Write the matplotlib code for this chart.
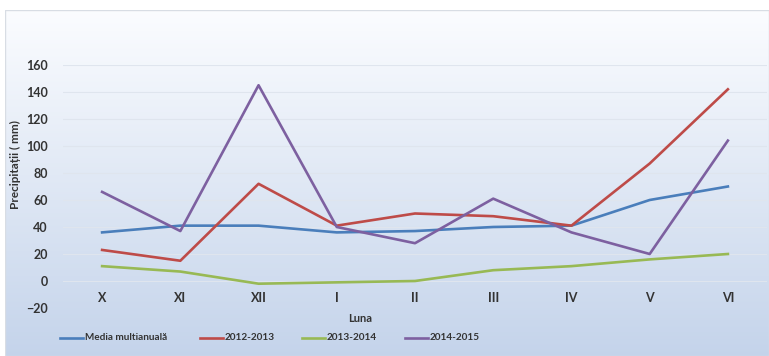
import numpy as np
import matplotlib
matplotlib.use("Agg")
import matplotlib.pyplot as plt
from matplotlib.lines import Line2D

plt.rcParams["font.family"] = ["Lato", "DejaVu Sans"]

months = ["X", "XI", "XII", "I", "II", "III", "IV", "V", "VI"]
media = [36, 41, 41, 36, 37, 40, 41, 60, 70]
s2012 = [23, 15, 72, 41, 50, 48, 41, 87, 142]
s2013 = [11, 7, -2, -1, 0, 8, 11, 16, 20]
s2014 = [66, 37, 145, 40, 28, 61, 36, 20, 104]

names = ["Media multianuală", "2012-2013", "2013-2014", "2014-2015"]
colors = ["#4a7ebb", "#be4b48", "#98b954", "#7d60a0"]
series = [media, s2012, s2013, s2014]

W, H = 769, 356
fig = plt.figure(figsize=(W / 100, H / 100), dpi=100)
fig.patch.set_facecolor("white")

# chart-area gradient background
bg = fig.add_axes([5 / W, 0, 1 - 5 / W, 1 - 10 / H])
grad = np.linspace(0, 1, 256).reshape(-1, 1)
top = np.array([0.985, 0.99, 1.0])
bot = np.array([0.77, 0.83, 0.92])
img = top + (bot - top) * grad[..., None]
img = np.repeat(img, 2, axis=1)
bg.imshow(img, aspect="auto", extent=[0, 1, 0, 1], origin="upper")
bg.set_axis_off()
bg.add_patch(plt.Rectangle((0, 0), 1, 1, transform=bg.transAxes, fill=False,
                           edgecolor="#d8dde4", linewidth=1))

ax = fig.add_axes([63 / W, 1 - 308 / H, (767 - 63) / W, (308 - 65) / H])
ax.patch.set_alpha(0)
x = np.arange(len(months))
for vals, c in zip(series, colors):
    ax.plot(x, vals, color=c, linewidth=1.9, solid_joinstyle="round")

ax.set_xlim(-0.5, len(months) - 0.5)
ax.set_ylim(-20, 160)
ax.set_yticks(np.arange(-20, 161, 20))
ax.set_xticks([])
for sp in ax.spines.values():
    sp.set_visible(False)
ax.grid(axis="y", color="#dfe5ee", linewidth=0.8)
ax.set_axisbelow(True)
ax.tick_params(axis="y", length=0, pad=11, labelsize=9, labelcolor="#333333")
for lab in ax.get_yticklabels():
    lab.set_fontweight("bold")

# category labels placed just below the zero line
for xi, m in zip(x, months):
    ax.annotate(m, xy=(xi, 0), xycoords="data", xytext=(0, -12),
                textcoords="offset points", ha="center", va="center",
                fontsize=9, fontweight="bold", color="#333333")

fig.text(15 / W, 1 - 165 / H, "Precipitații ( mm)", rotation=90, ha="center",
         va="center", fontsize=8.5, fontweight="bold", color="#333333")
fig.text(360 / W, 1 - 318 / H, "Luna", ha="center", va="center", fontsize=8,
         fontweight="bold", color="#333333")

# legend drawn entry by entry
leg_x = [60, 200, 302, 405]
leg_y = 1 - 338 / H
for lx, name, c in zip(leg_x, names, colors):
    fig.add_artist(Line2D([lx / W, (lx + 23) / W], [leg_y, leg_y], color=c,
                          linewidth=1.9, transform=fig.transFigure))
    fig.text((lx + 25) / W, leg_y, name, ha="left", va="center", fontsize=7.2,
             fontweight="bold", color="#333333")

fig.savefig("out.png", dpi=100)
